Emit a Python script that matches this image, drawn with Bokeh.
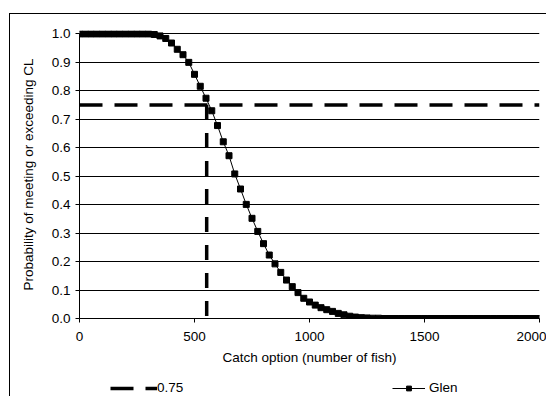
from bokeh.plotting import figure
from bokeh.layouts import column
from bokeh.models import Range1d, FixedTicker, NumeralTickFormatter, Legend, LegendItem
from bokeh.embed import file_html
from bokeh.resources import INLINE

# ---- data ----
catch = list(range(0, 2001, 25))
glen = ([1.0] * 13 +
        [0.998, 0.993, 0.984, 0.968, 0.946, 0.927, 0.900, 0.858, 0.816, 0.774,
         0.730, 0.678, 0.621, 0.572, 0.508, 0.455, 0.401, 0.352, 0.306, 0.263,
         0.223, 0.192, 0.162, 0.135, 0.112, 0.091, 0.071, 0.058, 0.047, 0.038,
         0.031, 0.025, 0.018, 0.013, 0.008, 0.005, 0.003, 0.002, 0.001, 0.001] +
        [0.0] * 28)
cl_level = 0.75
cl_catch = 553
x_ticks = [0, 500, 1000, 1500, 2000]
y_ticks = [0.0, 0.1, 0.2, 0.3, 0.4, 0.5, 0.6, 0.7, 0.8, 0.9, 1.0]

FONT = "Liberation Sans"
FSIZE = "13.5px"
HSTYLE = dict(line_color="black", line_width=3.5, line_dash="23 12")
VSTYLE = dict(line_color="black", line_width=3.5, line_dash="15 13")
LSTYLE = dict(line_color="black", line_width=1)
MSTYLE = dict(marker="square", size=6, fill_color="black", line_color="black")

p = figure(width=536, height=354, output_backend="svg", toolbar_location=None,
           x_range=Range1d(0, 2000), y_range=Range1d(0, 1.012),
           min_border_left=69, min_border_right=7, min_border_top=16, min_border_bottom=50)
p.outline_line_color = None
p.background_fill_color = "white"
p.border_fill_color = "white"

# grid
p.xgrid.visible = False
p.ygrid.ticker = FixedTicker(ticks=y_ticks)
p.ygrid.grid_line_color = "black"
p.ygrid.grid_line_width = 1

# axes
p.xaxis.ticker = FixedTicker(ticks=x_ticks)
p.yaxis.ticker = FixedTicker(ticks=y_ticks)
p.yaxis.formatter = NumeralTickFormatter(format="0.0")
p.yaxis.bounds = (0, 1)
for ax in (p.xaxis, p.yaxis):
    ax.axis_line_color = "black"
    ax.major_tick_line_color = "black"
    ax.major_tick_in = 0
    ax.major_tick_out = 4
    ax.minor_tick_line_color = None
    ax.major_label_text_font = FONT
    ax.major_label_text_font_size = FSIZE
    ax.major_label_text_color = "black"
    ax.axis_label_text_font = FONT
    ax.axis_label_text_font_size = FSIZE
    ax.axis_label_text_font_style = "normal"
    ax.axis_label_text_color = "black"
p.xaxis.axis_label = "Catch option (number of fish)"
p.yaxis.axis_label = "Probability of meeting or exceeding CL"
p.xaxis.major_label_standoff = 9
p.xaxis.axis_label_standoff = 6
p.yaxis.major_label_standoff = 5
p.yaxis.axis_label_standoff = 13

# series
p.line(x=[0, 2000], y=[cl_level, cl_level], **HSTYLE)
p.line(x=[cl_catch, cl_catch], y=[cl_level, 0], **VSTYLE)
p.line(x=catch, y=glen, **LSTYLE)
p.scatter(x=catch, y=glen, **MSTYLE)

# legend strip (proxy renderers lie outside its visible ranges)
p2 = figure(width=536, height=28, output_backend="svg", toolbar_location=None,
            x_range=Range1d(5000, 5001), y_range=Range1d(10, 11),
            x_axis_type=None, y_axis_type=None,
            min_border=0, min_border_left=0, min_border_right=0,
            min_border_top=0, min_border_bottom=0)
p2.outline_line_color = None
p2.background_fill_color = "white"
p2.border_fill_color = "white"
lh = p2.line(x=[0, 2000], y=[cl_level, cl_level], **HSTYLE)
lg = p2.line(x=catch, y=glen, **LSTYLE)
ls = p2.scatter(x=catch, y=glen, **MSTYLE)

common = dict(padding=0, margin=0, border_line_color=None, background_fill_alpha=0,
              label_text_font=FONT, label_text_font_size=FSIZE, label_text_color="black",
              glyph_height=12, label_height=12)
leg1 = Legend(items=[LegendItem(label="0.75", renderers=[lh])],
              location=(31, 1), glyph_width=47, label_standoff=0, **common)
leg2 = Legend(items=[LegendItem(label="Glen", renderers=[lg, ls])],
              location=(313, 1), glyph_width=33, label_standoff=4, **common)
p2.add_layout(leg1, "center")
p2.add_layout(leg2, "center")

layout = column(p, p2, spacing=0)
layout.styles = {"margin-top": "13px", "margin-left": "9px",
                 "border-top": "1px solid #000", "border-left": "1px solid #000"}
open("out.html", "w").write(file_html(layout, INLINE))
